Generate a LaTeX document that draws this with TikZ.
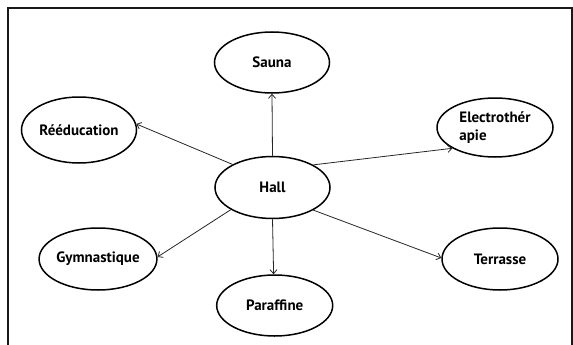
\documentclass[tikz,border=0pt]{standalone}
\usepackage{fontspec}
\setmainfont{PT Sans}
\usetikzlibrary{shapes.geometric,arrows.meta}
\begin{document}
\begin{tikzpicture}[x=1pt,y=-1pt,
  bubble/.style={draw=black,line width=1.5pt,ellipse,inner sep=0pt,
    minimum width=115pt,minimum height=62pt,
    font=\fontsize{15}{18}\selectfont\bfseries},
  link/.style={draw=black!85,line width=0.8pt,-{Straight Barb[length=4pt,width=7pt]}}]
\useasboundingbox (0,0) rectangle (573,345);
\draw[line width=2pt,black!90] (7.5,346) -- (7.5,8.5) -- (571.5,8.5) -- (571.5,346);
\node[bubble] (hall) at (272.5,187.5) {Hall};
\node[bubble,minimum height=61pt] (sauna) at (272,62.5) {Sauna};
\node[bubble,minimum height=66pt] (reed) at (79,130) {Rééducation};
\node[bubble,minimum width=116pt,minimum height=59pt,align=left] (elec) at (495,127.5) {Electrothér\\apie};
\node[bubble] (gym) at (98,259) {Gymnastique};
\node[bubble,minimum width=116pt] (terr) at (500,259) {Terrasse};
\node[bubble,minimum width=116pt,minimum height=61pt] (para) at (274.7,305.5) {Paraffine};
\draw[link] (hall.90) -- (sauna.270);
\draw[link] (hall.150) -- (reed.6);
\draw[link] (hall.29) -- (elec.206);
\draw[link] (hall.208) -- (gym.2);
\draw[link] (hall.270) -- (para.92);
\draw[link] (hall.331) -- (terr.179);
\end{tikzpicture}
\end{document}
